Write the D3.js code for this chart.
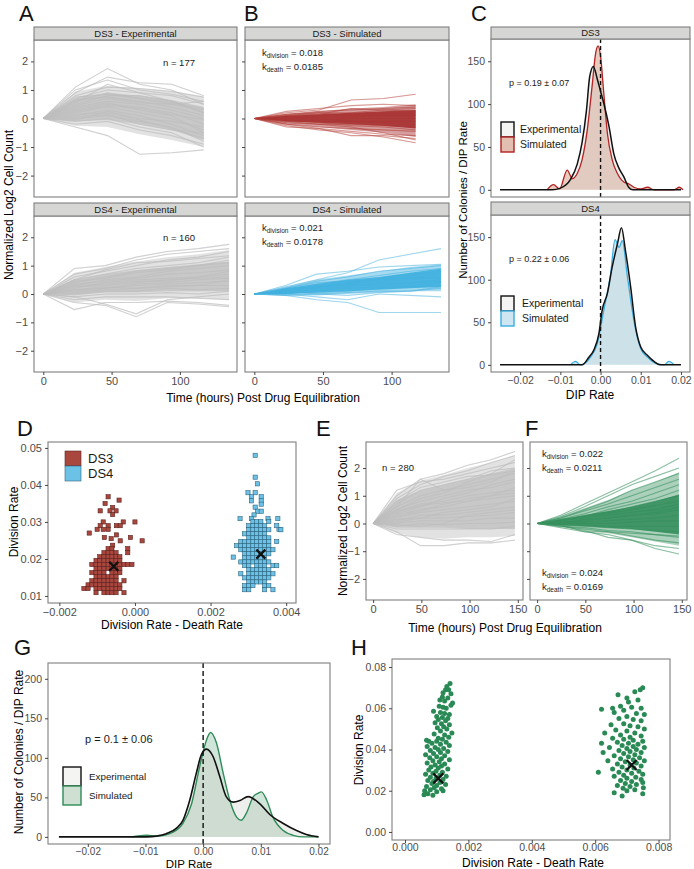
<!DOCTYPE html>
<html><head><meta charset="utf-8">
<script src="https://cdn.jsdelivr.net/npm/d3@7"></script>
<style>body{margin:0;background:#fff}svg{display:block}</style>
</head><body>
<svg id="chart" width="694" height="869"></svg>
<script>
// ================= DATA =================
const timesDS3 = [0, 23.5, 47, 70.5, 94, 117.5];
const timesDS4 = [0, 22.7, 45.3, 68, 90.7, 113.3, 136];
const timesE = [0, 24.5, 49, 73.5, 98, 122.5, 147];
const trajYTicks = [-2, -1, 0, 1, 2];
const trajXTicks = [0, 50, 100];
const eXTicks = [0, 50, 100, 150];

// DS3 experimental (panel A top)
const ds3ExpOuterLo = [0, -0.25, -0.3, -0.55, -0.75, -1.0];
const ds3ExpOuterHi = [0, 0.95, 1.15, 1.05, 0.95, 0.75];
const ds3ExpCoreLo = [0, -0.1, -0.05, -0.2, -0.4, -0.75];
const ds3ExpCoreHi = [0, 0.7, 0.9, 0.8, 0.65, 0.4];
const ds3ExpLines = [
  [0,1.1,1.75,1.2,1.0,0.5],[0,0.9,1.45,1.25,1.2,0.8],[0,1.0,1.35,1.0,0.85,0.6],[0,0.8,1.1,1.05,0.95,0.75],
  [0,0.7,1.0,0.9,0.8,0.5],[0,0.6,0.9,0.7,0.5,0.3],[0,0.5,0.8,0.8,0.6,0.2],[0,0.4,0.6,0.5,0.3,0.0],
  [0,0.3,0.5,0.4,0.2,-0.2],[0,0.2,0.4,0.2,0.0,-0.4],[0,0.1,0.3,0.1,-0.2,-0.6],[0,0.0,0.1,-0.1,-0.3,-0.8],
  [0,-0.1,0.0,-0.3,-0.5,-1.0],[0,-0.2,-0.1,-0.4,-0.6,-0.9],[0,-0.3,-0.6,-1.25,-1.2,-1.1],[0,0.65,0.75,0.6,0.4,0.1],
  [0,0.35,0.55,0.3,0.1,-0.5],[0,0.15,0.2,-0.05,-0.35,-0.7],[0,0.55,1.2,0.9,0.6,0.2],[0,-0.05,0.25,0.0,-0.1,-0.3],
  [0,0.45,0.7,0.55,0.5,0.6],[0,0.25,0.45,0.35,0.15,-0.05],[0,0.75,0.85,0.7,0.55,0.35],[0,0.05,0.15,-0.2,-0.4,-0.5]
];
// DS4 experimental (panel A bottom)
const ds4ExpOuterLo = [0, -0.3, -0.2, -0.25, -0.15, -0.15, -0.2];
const ds4ExpOuterHi = [0, 0.75, 0.95, 1.15, 1.3, 1.4, 1.55];
const ds4ExpCoreLo = [0, -0.05, 0.05, 0.05, 0.1, 0.1, 0.1];
const ds4ExpCoreHi = [0, 0.5, 0.7, 0.85, 0.95, 1.05, 1.15];
const ds4ExpLines = [
  [0,0.9,1.0,1.3,1.5,1.6,1.75],[0,0.7,0.9,1.2,1.4,1.5,1.6],[0,0.6,0.8,1.0,1.2,1.3,1.5],[0,0.5,0.7,0.9,1.0,1.1,1.3],
  [0,0.4,0.6,0.8,0.9,1.0,1.1],[0,0.3,0.5,0.6,0.8,0.9,1.0],[0,0.35,0.45,0.55,0.7,0.75,0.85],[0,0.2,0.4,0.5,0.55,0.6,0.7],
  [0,0.25,0.3,0.4,0.5,0.55,0.6],[0,0.1,0.2,0.3,0.35,0.4,0.45],[0,0.15,0.25,0.2,0.3,0.3,0.3],[0,0.0,0.1,0.1,0.2,0.15,0.2],
  [0,-0.1,0.0,0.0,0.05,0.0,0.1],[0,-0.2,-0.1,-0.1,-0.1,-0.15,-0.2],[0,-0.55,-0.3,-0.3,-0.25,-0.3,-0.4],[0,-0.3,-0.4,-0.8,-0.3,-0.35,-0.45],
  [0,-0.1,-0.35,-0.7,-0.2,-0.1,0.0],[0,0.45,0.55,0.75,0.85,1.0,1.2],[0,0.3,0.35,0.45,0.45,0.6,0.8],[0,0.05,0.15,0.2,0.25,0.3,0.5],
  [0,0.5,0.85,1.1,1.15,1.25,1.35],[0,0.15,0.2,0.35,0.4,0.5,0.55]
];
// DS3 simulated (panel B top)
const ds3SimOuterLo = [0, -0.2, -0.3, -0.4, -0.5, -0.65];
const ds3SimOuterHi = [0, 0.15, 0.25, 0.35, 0.4, 0.5];
const ds3SimCoreLo = [0, -0.1, -0.15, -0.2, -0.25, -0.35];
const ds3SimCoreHi = [0, 0.1, 0.15, 0.2, 0.25, 0.3];
const ds3SimLines = [
  [0,0.2,0.3,0.65,0.7,0.85],[0,0.25,0.35,0.45,0.5,0.45],[0,0.15,0.25,0.3,0.35,0.4],[0,0.1,0.2,0.2,0.3,0.35],
  [0,0.05,0.1,0.15,0.2,0.2],[0,0.0,0.05,0.05,0.1,0.1],[0,-0.05,-0.05,0.0,0.0,0.0],[0,-0.1,-0.1,-0.1,-0.1,-0.1],
  [0,-0.15,-0.2,-0.2,-0.25,-0.3],[0,-0.2,-0.3,-0.35,-0.4,-0.45],[0,-0.3,-0.35,-0.45,-0.55,-0.6],[0,-0.2,-0.35,-0.6,-0.6,-0.7],
  [0,-0.25,-0.4,-0.5,-0.65,-0.85],[0,-0.1,-0.2,-0.3,-0.5,-0.75],[0,0.1,0.15,0.35,0.3,0.25],[0,-0.05,-0.15,-0.25,-0.3,-0.4],
  [0,0.05,0.0,-0.1,-0.15,-0.2],[0,0.15,0.2,0.1,0.15,0.15]
];
// DS4 simulated (panel B bottom)
const ds4SimOuterLo = [0, -0.05, -0.05, 0.0, 0.05, 0.1, 0.1];
const ds4SimOuterHi = [0, 0.25, 0.5, 0.65, 0.8, 0.95, 1.05];
const ds4SimCoreLo = [0, 0.0, 0.05, 0.1, 0.15, 0.2, 0.25];
const ds4SimCoreHi = [0, 0.2, 0.35, 0.5, 0.6, 0.75, 0.9];
const ds4SimLines = [
  [0,0.25,0.5,0.75,1.2,1.4,1.6],[0,0.3,0.7,0.8,0.95,1.0,1.05],[0,0.2,0.45,0.6,0.8,0.9,1.0],[0,0.15,0.35,0.5,0.65,0.8,0.9],
  [0,0.1,0.3,0.4,0.55,0.7,0.8],[0,0.15,0.25,0.35,0.5,0.55,0.7],[0,0.1,0.2,0.3,0.4,0.5,0.6],[0,0.05,0.15,0.25,0.35,0.4,0.5],
  [0,0.0,0.1,0.2,0.25,0.3,0.4],[0,0.05,0.05,0.1,0.2,0.25,0.3],[0,-0.05,0.0,0.05,0.1,0.1,0.2],[0,0.0,-0.1,-0.2,0.0,-0.05,-0.1],
  [0,-0.05,-0.2,-0.3,-0.65,-0.65,-0.65],[0,0.1,0.0,-0.05,0.05,0.1,0.25],[0,0.2,0.4,0.45,0.5,0.65,0.75],[0,0.1,0.25,0.35,0.45,0.6,0.55],
  [0,0.05,0.2,0.35,0.3,0.4,0.45]
];
// panel E experimental
const eExpOuterLo = [0, -0.35, -0.5, -0.55, -0.5, -0.5, -0.45];
const eExpOuterHi = [0, 1.1, 1.55, 1.75, 2.0, 2.2, 2.45];
const eExpCoreLo = [0, -0.15, -0.15, -0.15, -0.2, -0.2, -0.2];
const eExpCoreHi = [0, 0.85, 1.2, 1.4, 1.6, 1.8, 2.0];
const eExpLines = [
  [0,1.0,1.6,1.8,2.1,2.3,2.6],[0,0.9,1.4,1.7,1.9,2.2,2.45],[0,1.2,1.5,1.6,1.8,2.0,2.2],[0,0.7,1.2,1.4,1.6,1.9,2.0],
  [0,0.6,1.0,1.2,1.4,1.6,1.8],[0,0.5,0.8,1.0,1.2,1.3,1.5],[0,0.4,0.7,0.8,1.0,1.1,1.2],[0,0.3,0.5,0.6,0.8,0.9,1.0],
  [0,0.2,0.4,0.5,0.6,0.7,0.8],[0,0.1,0.3,0.3,0.4,0.5,0.6],[0,0.15,0.2,0.2,0.25,0.3,0.4],[0,0.0,0.1,0.1,0.1,0.2,0.2],
  [0,-0.1,0.0,-0.05,0.0,0.0,0.05],[0,-0.2,-0.2,-0.2,-0.2,-0.2,-0.1],[0,-0.4,-0.5,-0.6,-0.6,-0.65,-0.4],[0,-0.3,-0.8,-0.8,-0.7,-0.7,-0.6],
  [0,0.6,1.6,1.2,1.3,1.5,1.9],[0,0.5,0.9,1.1,1.5,1.8,2.3],[0,0.35,0.6,0.9,1.1,1.4,1.6],[0,0.25,0.45,0.7,0.9,1.0,1.3],
  [0,0.8,1.3,1.5,1.7,1.75,1.9],[0,0.05,0.2,0.4,0.5,0.6,0.9],[0,-0.05,-0.1,0.0,0.3,0.4,0.5],[0,0.45,0.65,0.75,0.8,1.0,1.1]
];
// panel F simulated
const fSimOuterLo = [0, -0.1, -0.25, -0.35, -0.5, -0.65, -0.8];
const fSimOuterHi = [0, 0.25, 0.55, 0.85, 1.2, 1.5, 1.85];
const fSimCoreLo = [0, -0.05, -0.1, -0.15, -0.2, -0.3, -0.4];
const fSimCoreHi = [0, 0.15, 0.3, 0.45, 0.6, 0.8, 1.05];
const fSimLines = [
  [0,0.3,0.7,1.1,1.5,1.9,2.35],[0,0.25,0.6,1.0,1.4,1.7,2.0],[0,0.2,0.5,0.8,1.2,1.5,1.8],[0,0.2,0.45,0.7,1.0,1.3,1.6],
  [0,0.15,0.35,0.6,0.8,1.1,1.4],[0,0.1,0.3,0.4,0.6,0.8,1.0],[0,0.1,0.2,0.3,0.4,0.5,0.7],[0,0.05,0.1,0.2,0.3,0.35,0.5],
  [0,0.05,0.05,0.1,0.15,0.2,0.3],[0,0.0,0.0,0.0,0.05,0.1,0.1],[0,-0.05,-0.05,-0.1,-0.1,-0.1,-0.1],[0,-0.05,-0.1,-0.15,-0.2,-0.25,-0.3],
  [0,-0.1,-0.15,-0.25,-0.3,-0.4,-0.5],[0,-0.1,-0.2,-0.3,-0.45,-0.6,-0.7],[0,-0.15,-0.3,-0.4,-0.6,-0.8,-0.9],[0,-0.1,-0.25,-0.5,-0.6,-0.9,-1.1],
  [0,-0.05,-0.3,-0.3,-0.35,-0.4,-0.45],[0,0.15,0.25,0.5,0.7,0.9,1.2],[0,0.1,0.25,0.35,0.5,0.65,0.8],[0,0.0,0.15,0.2,0.3,0.4,0.6]
];

// densities (DIP rate, count)
const dipTicks = [-0.02, -0.01, 0.00, 0.01, 0.02];
const densYTicksC = [0, 50, 100, 150];
const densYTicksG = [0, 50, 100, 150, 200];
const ds3ExpDens = [[-0.025,0],[-0.012,0],[-0.01,2],[-0.0075,12],[-0.0058,30],[-0.0046,55],[-0.0035,93],[-0.0027,132],[-0.0018,144],[-0.0008,129],[0,115],[0.0008,101],[0.0021,74],[0.0033,42],[0.0046,25],[0.0058,15],[0.007,3],[0.008,0],[0.02,0]];
const ds3SimDens = [[-0.0133,0],[-0.0117,6],[-0.0102,1],[-0.0083,23],[-0.007,13],[-0.0058,19],[-0.0046,35],[-0.0033,70],[-0.0021,121],[-0.0012,160],[-0.0006,168],[0,156],[0.0008,113],[0.0017,66],[0.0029,35],[0.0042,19],[0.0058,9],[0.007,7],[0.0083,3],[0.01,1],[0.0117,3],[0.0133,0],[0.0183,0],[0.0196,3],[0.0205,0]];
const ds4ExpDens = [[-0.025,0],[-0.0046,0],[-0.0029,9],[-0.0017,17],[-0.0004,37],[0.0004,64],[0.0017,84],[0.0029,115],[0.0042,142],[0.0052,161],[0.0062,134],[0.0075,91],[0.0087,45],[0.01,21],[0.0117,11],[0.0133,4],[0.015,0],[0.02,0]];
const ds4SimDens = [[-0.0075,0],[-0.0062,4],[-0.005,0],[-0.0025,9],[-0.0008,25],[0.0008,64],[0.0025,107],[0.0036,147],[0.0046,138],[0.0054,146],[0.0067,103],[0.0083,52],[0.01,19],[0.0117,9],[0.0137,2],[0.0158,0],[0.017,4],[0.0183,0]];
const gExpDens = [[-0.025,0],[-0.0098,0],[-0.0081,1],[-0.0064,4],[-0.0046,11],[-0.0035,21],[-0.0023,47],[-0.0012,80],[-0.0003,104],[0.0006,111],[0.0017,102],[0.0029,76],[0.004,51],[0.0052,44],[0.0064,46],[0.0078,51],[0.0098,42],[0.0116,28],[0.0139,17],[0.0162,8],[0.0179,3],[0.02,0]];
const gSimDens = [[-0.0125,0],[-0.0098,2],[-0.008,1],[-0.0052,6],[-0.0035,17],[-0.002,42],[-0.0006,89],[0.0006,123],[0.0013,132],[0.0023,119],[0.0035,80],[0.0046,47],[0.0058,25],[0.0066,21],[0.0075,30],[0.0087,51],[0.0095,55],[0.0101,57],[0.011,47],[0.0121,25],[0.0139,8],[0.0156,2],[0.0175,0],[0.02,0]];

// D: division rate - death rate vs division rate
const dXTicks = [-0.002, 0.000, 0.002, 0.004];
const dYTicks = [0.01, 0.02, 0.03, 0.04, 0.05];
const ds3Points = [
  [-0.00071,0.0368],[-0.00079,0.0350],[-0.00042,0.0359],[-0.00059,0.0339],[-0.00092,0.0330],[-0.00066,0.0330],[-0.00050,0.0330],
  [-0.00059,0.0320],[-0.00084,0.0300],[-0.00031,0.0300],[0.00000,0.0300],[-0.00092,0.0290],[-0.00071,0.0290],[-0.00049,0.0290],
  [-0.00039,0.0290],[-0.00121,0.0270],[-0.00100,0.0280],[-0.00084,0.0280],[-0.00071,0.0280],[-0.00049,0.0265],[-0.00081,0.0258],
  [-0.00063,0.0255],[-0.00012,0.0258],[0.00019,0.0249],[-0.00039,0.0249],[-0.00059,0.0237],
  [-0.00071,0.0228],[-0.00061,0.0228],[-0.00019,0.0228],
  [-0.00082,0.0217],[-0.00071,0.0217],[-0.00061,0.0217],[-0.00050,0.0217],[-0.00019,0.0217],
  [-0.00093,0.0206],[-0.00082,0.0206],[-0.00071,0.0206],[-0.00061,0.0206],[-0.00050,0.0206],[-0.00040,0.0206],
  [-0.00103,0.0196],[-0.00093,0.0196],[-0.00082,0.0196],[-0.00071,0.0196],[-0.00061,0.0196],[-0.00050,0.0196],[-0.00040,0.0196],
  [-0.00114,0.0185],[-0.00103,0.0185],[-0.00093,0.0185],[-0.00082,0.0185],[-0.00071,0.0185],[-0.00061,0.0185],[-0.00050,0.0185],
  [-0.00040,0.0185],[-0.00029,0.0185],[-0.00019,0.0185],[-0.00008,0.0185],
  [-0.00103,0.0174],[-0.00093,0.0174],[-0.00082,0.0174],[-0.00071,0.0174],[-0.00061,0.0174],[-0.00050,0.0174],[-0.00040,0.0174],
  [-0.00114,0.0163],[-0.00103,0.0163],[-0.00093,0.0163],[-0.00082,0.0163],[-0.00061,0.0163],[-0.00050,0.0163],[-0.00040,0.0163],
  [-0.00103,0.0152],[-0.00093,0.0152],[-0.00082,0.0152],[-0.00071,0.0152],[-0.00061,0.0152],[-0.00050,0.0152],
  [-0.00114,0.0141],[-0.00103,0.0141],[-0.00093,0.0141],[-0.00082,0.0141],[-0.00071,0.0141],[-0.00061,0.0141],[-0.00050,0.0141],[-0.00029,0.0141],
  [-0.00124,0.0130],[-0.00114,0.0130],[-0.00103,0.0130],[-0.00093,0.0130],[-0.00082,0.0130],[-0.00071,0.0130],[-0.00061,0.0130],[-0.00050,0.0130],[-0.00040,0.0130],
  [-0.00135,0.0120],[-0.00124,0.0120],[-0.00103,0.0120],[-0.00093,0.0120],[-0.00082,0.0120],[-0.00071,0.0120],[-0.00061,0.0120],[-0.00050,0.0120],[-0.00040,0.0120],
  [-0.00103,0.0109],[-0.00082,0.0109],[-0.00071,0.0109],[-0.00061,0.0109],[-0.00050,0.0109],[-0.00029,0.0109]
];
const ds4Points = [
  [0.00318,0.0480],[0.00318,0.0421],[0.00324,0.0403],[0.00299,0.0379],[0.00318,0.0379],[0.00308,0.0368],[0.00334,0.0368],
  [0.00308,0.0357],[0.00334,0.0357],[0.00334,0.0348],[0.00318,0.0340],[0.00324,0.0329],[0.00334,0.0329],[0.00315,0.0319],
  [0.00278,0.0309],[0.00308,0.0309],[0.00352,0.0309],[0.00378,0.0309],[0.00381,0.0280],
  [0.00312,0.0301],[0.00322,0.0301],[0.00333,0.0301],[0.00354,0.0301],
  [0.00301,0.0290],[0.00312,0.0290],[0.00322,0.0290],[0.00333,0.0290],[0.00343,0.0290],[0.00375,0.0290],
  [0.00301,0.0279],[0.00312,0.0279],[0.00322,0.0279],[0.00333,0.0279],[0.00343,0.0279],[0.00354,0.0279],[0.00386,0.0279],
  [0.00290,0.0268],[0.00301,0.0268],[0.00312,0.0268],[0.00322,0.0268],[0.00333,0.0268],[0.00343,0.0268],
  [0.00301,0.0257],[0.00312,0.0257],[0.00322,0.0257],[0.00333,0.0257],[0.00343,0.0257],[0.00354,0.0257],
  [0.00280,0.0247],[0.00290,0.0247],[0.00301,0.0247],[0.00312,0.0247],[0.00322,0.0247],[0.00333,0.0247],[0.00343,0.0247],[0.00354,0.0247],[0.00375,0.0247],
  [0.00269,0.0236],[0.00280,0.0236],[0.00290,0.0236],[0.00301,0.0236],[0.00312,0.0236],[0.00322,0.0236],[0.00333,0.0236],[0.00343,0.0236],[0.00354,0.0236],
  [0.00280,0.0225],[0.00290,0.0225],[0.00301,0.0225],[0.00312,0.0225],[0.00322,0.0225],[0.00333,0.0225],[0.00343,0.0225],[0.00354,0.0225],[0.00365,0.0225],
  [0.00290,0.0214],[0.00301,0.0214],[0.00312,0.0214],[0.00322,0.0214],[0.00333,0.0214],[0.00343,0.0214],[0.00354,0.0214],
  [0.00260,0.0205],[0.00290,0.0203],[0.00301,0.0203],[0.00312,0.0203],[0.00322,0.0203],[0.00333,0.0203],[0.00343,0.0203],
  [0.00280,0.0192],[0.00290,0.0192],[0.00301,0.0192],[0.00312,0.0192],[0.00322,0.0192],[0.00333,0.0192],[0.00343,0.0192],[0.00354,0.0192],
  [0.00290,0.0182],[0.00301,0.0182],[0.00322,0.0182],[0.00333,0.0182],[0.00343,0.0182],[0.00365,0.0182],[0.00375,0.0182],
  [0.00301,0.0171],[0.00312,0.0171],[0.00322,0.0171],[0.00333,0.0171],[0.00343,0.0171],[0.00354,0.0171],
  [0.00280,0.0160],[0.00301,0.0160],[0.00312,0.0160],[0.00322,0.0160],[0.00333,0.0160],[0.00343,0.0160],[0.00354,0.0160],[0.00365,0.0160],
  [0.00290,0.0149],[0.00301,0.0149],[0.00312,0.0149],[0.00322,0.0149],[0.00333,0.0149],[0.00343,0.0149],[0.00354,0.0149],
  [0.00301,0.0138],[0.00312,0.0138],[0.00322,0.0138],[0.00333,0.0138],[0.00343,0.0138],
  [0.00290,0.0128],[0.00301,0.0128],[0.00312,0.0128],[0.00343,0.0128],[0.00354,0.0128],
  [0.00290,0.0117],[0.00301,0.0117],[0.00343,0.0117],[0.00365,0.0117]
];
const dCentroids = [[-0.00056, 0.0180], [0.00333, 0.0213]];

// H: simulated division rate vs net rate
const hXTicks = [0.000, 0.002, 0.004, 0.006, 0.008];
const hYTicks = [0.00, 0.02, 0.04, 0.06, 0.08];
const hLeftPoints = [
  [0.00142,0.0720],[0.00132,0.0705],[0.00128,0.0690],[0.00138,0.0690],[0.00120,0.0675],[0.00145,0.0670],[0.00118,0.0655],[0.00135,0.0650],
  [0.00110,0.0640],[0.00125,0.0635],[0.00150,0.0625],[0.00145,0.0615],[0.00108,0.0610],[0.00120,0.0605],[0.00130,0.0600],[0.00090,0.0585],
  [0.00112,0.0580],[0.00125,0.0575],[0.00140,0.0570],[0.00100,0.0560],[0.00118,0.0555],[0.00135,0.0550],[0.00105,0.0545],[0.00128,0.0540],
  [0.00095,0.0530],[0.00115,0.0525],[0.00140,0.0520],[0.00122,0.0510],[0.00102,0.0505],[0.00132,0.0500],[0.00112,0.0490],[0.00148,0.0480],
  [0.00092,0.0475],[0.00125,0.0470],[0.00138,0.0460],[0.00105,0.0455],[0.00118,0.0450],
  [0.00068,0.0445],[0.00075,0.0440],[0.00100,0.0440],[0.00130,0.0435],[0.00085,0.0430],[0.00112,0.0425],[0.00140,0.0420],[0.00070,0.0415],
  [0.00095,0.0410],[0.00122,0.0405],[0.00105,0.0400],[0.00080,0.0395],[0.00135,0.0390],[0.00112,0.0385],[0.00090,0.0380],[0.00065,0.0375],
  [0.00125,0.0370],[0.00100,0.0365],[0.00078,0.0360],[0.00115,0.0355],[0.00140,0.0350],[0.00088,0.0345],[0.00108,0.0340],[0.00070,0.0335],
  [0.00125,0.0330],[0.00095,0.0325],[0.00115,0.0320],[0.00082,0.0315],[0.00105,0.0310],[0.00135,0.0305],[0.00075,0.0300],[0.00098,0.0295],
  [0.00118,0.0290],[0.00088,0.0285],[0.00065,0.0280],[0.00110,0.0275],[0.00130,0.0270],[0.00080,0.0265],[0.00098,0.0260],[0.00120,0.0255],
  [0.00072,0.0250],[0.00090,0.0245],[0.00110,0.0240],[0.00085,0.0235],[0.00128,0.0230],[0.00100,0.0225],[0.00068,0.0220],[0.00092,0.0215],
  [0.00115,0.0210],[0.00080,0.0205],[0.00062,0.0200],[0.00100,0.0195],[0.00072,0.0185],[0.00088,0.0178],[0.00120,0.0200],[0.00060,0.0180]
];
const hRightPoints = [
  [0.00672,0.0665],[0.00620,0.0595],[0.00655,0.0600],[0.00700,0.0650],[0.00742,0.0690],[0.00750,0.0700],[0.00725,0.0680],[0.00735,0.0640],
  [0.00705,0.0630],[0.00680,0.0610],[0.00715,0.0605],[0.00745,0.0600],[0.00690,0.0590],[0.00730,0.0575],[0.00660,0.0580],[0.00755,0.0570],
  [0.00700,0.0560],[0.00675,0.0550],[0.00720,0.0545],[0.00745,0.0540],[0.00650,0.0520],[0.00690,0.0525],[0.00710,0.0515],[0.00735,0.0510],
  [0.00755,0.0500],[0.00665,0.0495],[0.00700,0.0490],[0.00725,0.0480],[0.00630,0.0480],[0.00680,0.0470],[0.00745,0.0465],[0.00710,0.0460],[0.00655,0.0455],
  [0.00690,0.0450],[0.00720,0.0445],[0.00750,0.0440],[0.00670,0.0435],[0.00705,0.0430],[0.00735,0.0425],[0.00620,0.0430],[0.00685,0.0420],
  [0.00720,0.0415],[0.00755,0.0410],[0.00645,0.0410],[0.00700,0.0405],[0.00730,0.0400],[0.00675,0.0395],[0.00710,0.0390],[0.00745,0.0385],
  [0.00625,0.0385],[0.00690,0.0380],[0.00725,0.0375],[0.00660,0.0370],[0.00705,0.0365],[0.00740,0.0360],[0.00680,0.0355],[0.00720,0.0350],
  [0.00755,0.0345],[0.00640,0.0345],[0.00695,0.0340],[0.00730,0.0335],[0.00670,0.0330],[0.00710,0.0325],[0.00745,0.0320],[0.00685,0.0315],
  [0.00722,0.0310],[0.00655,0.0305],[0.00700,0.0300],[0.00738,0.0295],[0.00610,0.0290],[0.00675,0.0290],[0.00715,0.0285],[0.00750,0.0280],
  [0.00690,0.0275],[0.00660,0.0270],[0.00728,0.0265],[0.00700,0.0260],[0.00745,0.0255],[0.00680,0.0250],[0.00715,0.0245],[0.00750,0.0240],
  [0.00695,0.0235],[0.00730,0.0230],[0.00670,0.0225],[0.00710,0.0220],[0.00752,0.0215],[0.00688,0.0212],[0.00725,0.0205],[0.00660,0.0190],
  [0.00750,0.0185],[0.00685,0.0175],[0.00700,0.0200]
];
const hCentroids = [[0.00105, 0.026], [0.00715, 0.0325]];

// ================= DRAWING =================
const FONT = '"Liberation Sans", Arial, Helvetica, sans-serif';
const svg = d3.select("#chart").style("font-family", FONT);
const BORDER = "#7f7f7f";
let clipN = 0;

function clip(x0, y0, x1, y1) {
  const id = "clip" + (clipN++);
  svg.append("clipPath").attr("id", id).append("rect")
    .attr("x", x0).attr("y", y0).attr("width", x1 - x0).attr("height", y1 - y0);
  return svg.append("g").attr("clip-path", `url(#${id})`);
}
function border(x0, y0, x1, y1) {
  svg.append("rect").attr("x", x0).attr("y", y0).attr("width", x1 - x0).attr("height", y1 - y0)
    .attr("fill", "none").attr("stroke", BORDER).attr("stroke-width", 1.1);
}
function strip(x0, x1, sy0, sy1, label) {
  svg.append("rect").attr("x", x0).attr("y", sy0).attr("width", x1 - x0).attr("height", sy1 - sy0)
    .attr("fill", "#d6d6d4").attr("stroke", BORDER).attr("stroke-width", 1.1);
  svg.append("text").attr("x", (x0 + x1) / 2).attr("y", (sy0 + sy1) / 2 + 3.3)
    .attr("text-anchor", "middle").attr("font-size", 9.5).attr("fill", "#1a1a1a").text(label);
}
function styleAxis(a, fs, noLabels) {
  a.select(".domain").remove();
  a.selectAll(".tick line").attr("stroke", "#333").attr("stroke-width", 0.9);
  a.selectAll(".tick text").attr("fill", "#4d4d4d").style("font-size", fs + "px").style("font-family", FONT);
  if (noLabels) a.selectAll(".tick text").remove();
}
function yAxis(y, x0, ticks, fmt, fs, noLabels) {
  const a = svg.append("g").attr("transform", `translate(${x0},0)`)
    .call(d3.axisLeft(y).tickValues(ticks).tickFormat(fmt).tickSize(3).tickPadding(3));
  styleAxis(a, fs, noLabels);
}
function xAxis(x, y1, ticks, fmt, fs, pad) {
  const a = svg.append("g").attr("transform", `translate(0,${y1})`)
    .call(d3.axisBottom(x).tickValues(ticks).tickFormat(fmt).tickSize(3).tickPadding(pad == null ? 2 : pad));
  styleAxis(a, fs, false);
}
function label(txt, x, y, fs, opts = {}) {
  const t = svg.append("text").attr("x", x).attr("y", y).attr("font-size", fs).attr("fill", opts.fill || "#000")
    .attr("text-anchor", opts.anchor || "start").text(txt);
  if (opts.rotate) t.attr("transform", `rotate(-90,${x},${y})`);
  return t;
}
function kText(x, y, sub, val) {
  const t = svg.append("text").attr("x", x).attr("y", y).attr("font-size", 9.5).attr("fill", "#1a1a1a");
  t.append("tspan").text("k");
  t.append("tspan").attr("font-size", 6.5).attr("dy", 2).text(sub);
  t.append("tspan").attr("dy", -2).text(" = " + val);
}

function trajPanel(p) {
  const x = d3.scaleLinear().domain(p.xDomain).range([p.x0, p.x1]);
  const y = d3.scaleLinear().domain(p.yDomain).range([p.y1, p.y0]);
  const g = clip(p.x0, p.y0, p.x1, p.y1);
  const band = (lo, hi) => d3.area().x((d, i) => x(p.times[i])).y0((d, i) => y(lo[i])).y1((d, i) => y(hi[i]));
  const line = d3.line().x((d, i) => x(p.times[i])).y(d => y(d));
  g.selectAll(".ln").data(p.lines).join("path").attr("d", line).attr("fill", "none")
    .attr("stroke", p.color).attr("stroke-opacity", p.lineOpacity).attr("stroke-width", p.lw || 1.1);
  g.append("path").datum(p.outerLo).attr("d", band(p.outerLo, p.outerHi)).attr("fill", p.coreColor).attr("fill-opacity", p.outerOpacity);
  g.append("path").datum(p.lo).attr("d", band(p.lo, p.hi)).attr("fill", p.coreColor).attr("fill-opacity", p.coreOpacity);
  g.selectAll(".ln2").data(p.lines).join("path").attr("d", line).attr("fill", "none")
    .attr("stroke", p.color).attr("stroke-opacity", p.lineOpacity * 0.5).attr("stroke-width", 0.8);
  border(p.x0, p.y0, p.x1, p.y1);
  if (p.strip) strip(p.x0, p.x1, p.sy0, p.y0, p.strip);
  yAxis(y, p.x0, trajYTicks, d3.format("d"), 11, !p.yLabels);
  if (p.xTicks) xAxis(x, p.y1, p.xTicks, d3.format("d"), 11);
}

function densPanel(p) {
  const x = d3.scaleLinear().domain([-0.02725, 0.02225]).range([p.x0, p.x1]);
  const y = d3.scaleLinear().domain(p.yDomain).range([p.y1, p.y0]);
  const g = clip(p.x0, p.y0, p.x1, p.y1);
  const area = d3.area().x(d => x(d[0])).y0(y(0)).y1(d => y(d[1])).curve(d3.curveMonotoneX);
  const line = d3.line().x(d => x(d[0])).y(d => y(d[1])).curve(d3.curveMonotoneX);
  g.append("path").datum(p.sim).attr("d", area).attr("fill", p.simFill).attr("fill-opacity", p.simFillOp);
  g.append("path").datum(p.exp).attr("d", area).attr("fill", "#c8c8c0").attr("fill-opacity", 0.25);
  g.append("path").datum(p.sim).attr("d", line).attr("fill", "none").attr("stroke", p.simStroke).attr("stroke-width", 1.3);
  g.append("path").datum(p.exp).attr("d", line).attr("fill", "none").attr("stroke", "#111").attr("stroke-width", 1.5);
  g.append("line").attr("x1", x(0)).attr("x2", x(0)).attr("y1", p.y0).attr("y2", p.y1)
    .attr("stroke", "#111").attr("stroke-width", 1.4).attr("stroke-dasharray", "4,3");
  border(p.x0, p.y0, p.x1, p.y1);
  if (p.strip) strip(p.x0, p.x1, p.sy0, p.y0, p.strip);
  yAxis(y, p.x0, p.yTicks, d3.format("d"), p.fs || 11, false);
  if (p.xAxis) xAxis(x, p.y1, dipTicks, d3.format(".2f"), p.fs || 11);
  label(p.ptext, p.px, p.py, p.pfs, { fill: "#1a1a1a" });
  const L = p.leg;
  svg.append("rect").attr("x", L.x).attr("y", L.y).attr("width", L.w).attr("height", L.h)
    .attr("fill", "#f4f4f2").attr("stroke", "#111").attr("stroke-width", 1.4);
  svg.append("rect").attr("x", L.x).attr("y", L.y + L.h).attr("width", L.w).attr("height", L.h)
    .attr("fill", p.legFill).attr("stroke", p.simStroke).attr("stroke-width", 1.4);
  label("Experimental", L.tx, L.y + L.h / 2 + L.fs * 0.36, L.fs, { fill: "#1a1a1a" });
  label("Simulated", L.tx, L.y + 1.5 * L.h + L.fs * 0.36, L.fs, { fill: "#1a1a1a" });
}

function xMark(x, y, cx, cy, s) {
  svg.append("path").attr("d", `M${x(cx) - s},${y(cy) - s}L${x(cx) + s},${y(cy) + s}M${x(cx) - s},${y(cy) + s}L${x(cx) + s},${y(cy) - s}`)
    .attr("stroke", "#111").attr("stroke-width", 2.2).attr("fill", "none");
}

// ---- Panel labels ----
[["A", 19, 21], ["B", 244, 21], ["C", 471, 21], ["D", 17, 436], ["E", 316, 436], ["F", 525, 436], ["G", 14, 655], ["H", 351, 655]]
  .forEach(([t, x, y]) => label(t, x, y, 22, { fill: "#111" }));

// ---- A ----
const trajXDom = [-6.8, 141.8];
const greyStyle = { color: "#bdbdbd", lineOpacity: 0.6, coreColor: "#bfbfbf", coreOpacity: 0.75, outerOpacity: 0.45 };
trajPanel(Object.assign({ x0: 34, x1: 237, y0: 40, y1: 197, sy0: 27, xDomain: trajXDom, yDomain: [-2.75, 2.75], times: timesDS3,
  lines: ds3ExpLines, lo: ds3ExpCoreLo, hi: ds3ExpCoreHi, outerLo: ds3ExpOuterLo, outerHi: ds3ExpOuterHi,
  strip: "DS3 - Experimental", yLabels: true }, greyStyle));
trajPanel(Object.assign({ x0: 34, x1: 237, y0: 216, y1: 372, sy0: 203, xDomain: trajXDom, yDomain: [-2.75, 2.75], times: timesDS4,
  lines: ds4ExpLines, lo: ds4ExpCoreLo, hi: ds4ExpCoreHi, outerLo: ds4ExpOuterLo, outerHi: ds4ExpOuterHi,
  strip: "DS4 - Experimental", yLabels: true, xTicks: trajXTicks }, greyStyle));
label("n = 177", 163, 66, 9.5, { fill: "#1a1a1a" });
label("n = 160", 163, 241, 9.5, { fill: "#1a1a1a" });

// ---- B ----
trajPanel({ x0: 245, x1: 449, y0: 40, y1: 197, sy0: 27, xDomain: trajXDom, yDomain: [-2.75, 2.75], times: timesDS3,
  lines: ds3SimLines, lo: ds3SimCoreLo, hi: ds3SimCoreHi, outerLo: ds3SimOuterLo, outerHi: ds3SimOuterHi,
  color: "#b5453c", lineOpacity: 0.45, coreColor: "#a52a2a", coreOpacity: 0.85, outerOpacity: 0.45,
  strip: "DS3 - Simulated", yLabels: false });
trajPanel({ x0: 245, x1: 449, y0: 216, y1: 372, sy0: 203, xDomain: trajXDom, yDomain: [-2.75, 2.75], times: timesDS4,
  lines: ds4SimLines, lo: ds4SimCoreLo, hi: ds4SimCoreHi, outerLo: ds4SimOuterLo, outerHi: ds4SimOuterHi,
  color: "#4fb6e0", lineOpacity: 0.45, coreColor: "#3aaede", coreOpacity: 0.85, outerOpacity: 0.45,
  strip: "DS4 - Simulated", yLabels: false, xTicks: trajXTicks });
kText(262, 56, "division", "0.018");
kText(262, 70, "death", "0.0185");
kText(262, 231, "division", "0.021");
kText(262, 245, "death", "0.0178");
label("Normalized Log2 Cell Count", 13, 205, 12, { rotate: true, anchor: "middle" });
label("Time (hours) Post Drug Equilibration", 263, 402, 12, { anchor: "middle" });

// ---- C ----
densPanel({ x0: 491, x1: 690, y0: 39, y1: 197, sy0: 27, yDomain: [-8.4, 176], yTicks: densYTicksC, fs: 10.5,
  exp: ds3ExpDens, sim: ds3SimDens, simFill: "#c06040", simFillOp: 0.33, simStroke: "#b22222", legFill: "#e3bfb2",
  strip: "DS3", ptext: "p = 0.19 ± 0.07", px: 509, py: 86, pfs: 9,
  leg: { x: 501, y: 122, w: 13, h: 15, tx: 520, fs: 10.5 } });
densPanel({ x0: 491, x1: 690, y0: 215, y1: 372, sy0: 202, yDomain: [-8.4, 176], yTicks: densYTicksC, fs: 10.5,
  exp: ds4ExpDens, sim: ds4SimDens, simFill: "#4fb3e0", simFillOp: 0.28, simStroke: "#3aaee0", legFill: "#cde6f1",
  strip: "DS4", ptext: "p = 0.22 ± 0.06", px: 509, py: 262, pfs: 9, xAxis: true,
  leg: { x: 501, y: 296, w: 13, h: 15, tx: 522, fs: 10.5 } });
label("Number of Colonies / DIP Rate", 467, 200, 11.5, { rotate: true, anchor: "middle" });
label("DIP Rate", 590, 399, 12, { anchor: "middle" });

// ---- D ----
{
  const x = d3.scaleLinear().domain([-0.0023, 0.00426]).range([48, 296]);
  const y = d3.scaleLinear().domain([0.0081, 0.0516]).range([603, 442]);
  const g = clip(48, 442, 296, 603);
  const sq = 4.2;
  g.selectAll(".s3").data(ds3Points).join("rect").attr("x", d => x(d[0]) - sq / 2).attr("y", d => y(d[1]) - sq / 2)
    .attr("width", sq).attr("height", sq).attr("fill", "#a9473f").attr("stroke", "#5b2520").attr("stroke-width", 0.6);
  g.selectAll(".s4").data(ds4Points).join("rect").attr("x", d => x(d[0]) - sq / 2).attr("y", d => y(d[1]) - sq / 2)
    .attr("width", sq).attr("height", sq).attr("fill", "#6cc2e6").attr("stroke", "#2f6680").attr("stroke-width", 0.6);
  dCentroids.forEach(c => xMark(x, y, c[0], c[1], 4.5));
  border(48, 442, 296, 603);
  yAxis(y, 48, dYTicks, d3.format(".2f"), 11, false);
  xAxis(x, 603, dXTicks, d3.format(".3f"), 11);
  svg.append("rect").attr("x", 65).attr("y", 451).attr("width", 16).attr("height", 15).attr("fill", "#a9473f").attr("stroke", "#5b2520").attr("stroke-width", 0.6);
  svg.append("rect").attr("x", 65).attr("y", 466).attr("width", 16).attr("height", 15).attr("fill", "#6cc2e6").attr("stroke", "#2f6680").attr("stroke-width", 0.6);
  label("DS3", 88, 463, 13, { fill: "#1a1a1a" });
  label("DS4", 88, 478, 13, { fill: "#1a1a1a" });
  label("Division Rate", 18, 522, 12, { rotate: true, anchor: "middle" });
  label("Division Rate - Death Rate", 172, 629, 12, { anchor: "middle" });
}

// ---- E / F ----
const eXDom = [-7.4, 155.4];
const eYDom = [-2.76, 2.94];
trajPanel(Object.assign({ x0: 366, x1: 523, y0: 442, y1: 600, xDomain: eXDom, yDomain: eYDom, times: timesE,
  lines: eExpLines, lo: eExpCoreLo, hi: eExpCoreHi, outerLo: eExpOuterLo, outerHi: eExpOuterHi,
  yLabels: true, xTicks: eXTicks }, greyStyle));
trajPanel({ x0: 530, x1: 687, y0: 442, y1: 600, xDomain: eXDom, yDomain: eYDom, times: timesE,
  lines: fSimLines, lo: fSimCoreLo, hi: fSimCoreHi, outerLo: fSimOuterLo, outerHi: fSimOuterHi,
  color: "#3f9666", lineOpacity: 0.5, coreColor: "#2e8b57", coreOpacity: 0.85, outerOpacity: 0.4,
  yLabels: false, xTicks: eXTicks });
label("n = 280", 382, 471, 9.5, { fill: "#1a1a1a" });
kText(542, 457, "division", "0.022");
kText(542, 471, "death", "0.0211");
kText(542, 576, "division", "0.024");
kText(542, 590, "death", "0.0169");
label("Normalized Log2 Cell Count", 347, 521, 12, { rotate: true, anchor: "middle" });
label("Time (hours) Post Drug Equilibration", 505, 632, 12, { anchor: "middle" });

// ---- G ----
{
  const x = d3.scaleLinear().domain([-0.0269, 0.0220]).range([48, 330]);
  const y = d3.scaleLinear().domain([-9, 220]).range([844, 663]);
  const g = clip(48, 663, 330, 844);
  const area = d3.area().x(d => x(d[0])).y0(y(0)).y1(d => y(d[1])).curve(d3.curveMonotoneX);
  const line = d3.line().x(d => x(d[0])).y(d => y(d[1])).curve(d3.curveMonotoneX);
  g.append("path").datum(gSimDens).attr("d", area).attr("fill", "#2e8b57").attr("fill-opacity", 0.22);
  g.append("path").datum(gExpDens).attr("d", area).attr("fill", "#c8c8c0").attr("fill-opacity", 0.3);
  g.append("path").datum(gSimDens).attr("d", line).attr("fill", "none").attr("stroke", "#2e8b57").attr("stroke-width", 1.4);
  g.append("path").datum(gExpDens).attr("d", line).attr("fill", "none").attr("stroke", "#111").attr("stroke-width", 1.6);
  g.append("line").attr("x1", x(0)).attr("x2", x(0)).attr("y1", 663).attr("y2", 844)
    .attr("stroke", "#111").attr("stroke-width", 1.4).attr("stroke-dasharray", "5,3");
  border(48, 663, 330, 844);
  yAxis(y, 48, densYTicksG, d3.format("d"), 10.5, false);
  xAxis(x, 844, dipTicks, d3.format(".2f"), 10, 1);
  label("p = 0.1 ± 0.06", 85, 743, 11, { fill: "#1a1a1a" });
  svg.append("rect").attr("x", 63).attr("y", 767).attr("width", 18).attr("height", 19).attr("fill", "#f4f4f2").attr("stroke", "#111").attr("stroke-width", 1.4);
  svg.append("rect").attr("x", 63).attr("y", 786).attr("width", 18).attr("height", 19).attr("fill", "#cfe0d3").attr("stroke", "#2e8b57").attr("stroke-width", 1.4);
  label("Experimental", 89, 780, 9.8, { fill: "#1a1a1a" });
  label("Simulated", 89, 799, 9.8, { fill: "#1a1a1a" });
  label("Number of Colonies / DIP Rate", 23, 752, 12, { rotate: true, anchor: "middle" });
  label("DIP Rate", 189, 868, 11.5, { anchor: "middle" });
}

// ---- H ----
{
  const x = d3.scaleLinear().domain([-0.00041, 0.00836]).range([392, 670]);
  const y = d3.scaleLinear().domain([-0.0039, 0.0839]).range([840, 659]);
  const g = clip(392, 659, 670, 840);
  g.selectAll(".hp").data(hLeftPoints.concat(hRightPoints)).join("circle")
    .attr("cx", d => x(d[0])).attr("cy", d => y(d[1])).attr("r", 2.5).attr("fill", "#2a8a55");
  hCentroids.forEach(c => xMark(x, y, c[0], c[1], 5));
  border(392, 659, 670, 840);
  yAxis(y, 392, hYTicks, d3.format(".2f"), 10.5, false);
  xAxis(x, 840, hXTicks, d3.format(".3f"), 10.5, 1);
  label("Division Rate", 363, 750, 12, { rotate: true, anchor: "middle" });
  label("Division Rate - Death Rate", 533, 867, 12, { anchor: "middle" });
}
</script>
</body></html>
